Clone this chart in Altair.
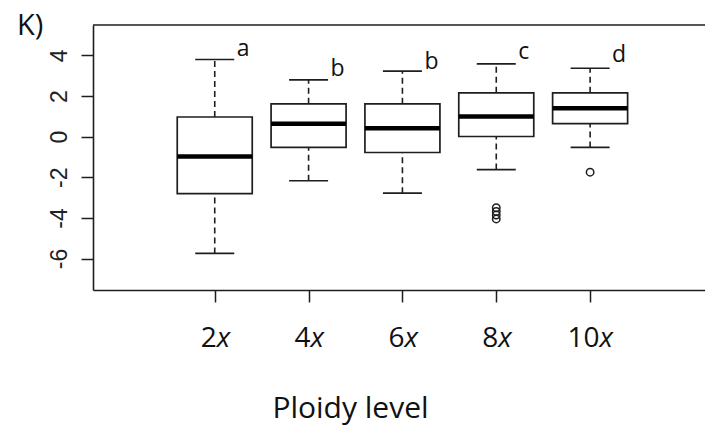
import altair as alt
import pandas as pd

# ---- data ----
CATEGORIES = ["2x", "4x", "6x", "8x", "10x"]
PLOIDY_NUM = ["2", "4", "6", "8", "10"]
WHISKER_LOW = [-5.75, -2.17, -2.78, -1.62, -0.53]
Q1 = [-2.80, -0.53, -0.78, 0.01, 0.64]
MEDIAN = [-0.98, 0.64, 0.42, 1.00, 1.40]
Q3 = [0.97, 1.62, 1.62, 2.16, 2.16]
WHISKER_HIGH = [3.80, 2.80, 3.23, 3.59, 3.37]
LETTERS = ["a", "b", "b", "c", "d"]
LETTER_Y = [3.95, 3.00, 3.34, 3.84, 3.67]
OUTLIER_GROUP = ["8x", "8x", "8x", "8x", "10x"]
OUTLIER_VALUES = [-3.50, -3.68, -3.86, -4.05, -1.75]
Y_TICKS = [-6, -4, -2, 0, 2, 4]
X_LABEL_SUFFIX = "x"
PANEL_LABEL = "K)"
X_TITLE = "Ploidy level"

# ---- tables ----
pos_of = {c: i + 1 for i, c in enumerate(CATEGORIES)}
df = pd.DataFrame({
    "group": CATEGORIES,
    "pos": [pos_of[c] for c in CATEGORIES],
    "num": PLOIDY_NUM,
    "suffix": [X_LABEL_SUFFIX] * len(CATEGORIES),
    "lo": WHISKER_LOW,
    "q1": Q1,
    "med": MEDIAN,
    "q3": Q3,
    "hi": WHISKER_HIGH,
    "letter": LETTERS,
    "letter_y": LETTER_Y,
})
out_df = pd.DataFrame({
    "group": OUTLIER_GROUP,
    "pos": [pos_of[g] for g in OUTLIER_GROUP],
    "value": OUTLIER_VALUES,
})
one = pd.DataFrame({"label": [PANEL_LABEL]})

W, H = 612, 265
INK = "#1e1e1e"
SANS = "Open Sans"

x_scale = alt.Scale(domain=[-0.244, 6.171], nice=False, zero=False)
y_scale = alt.Scale(domain=[-7.55, 5.5], nice=False, zero=False)

x_axis = alt.Axis(
    values=[1, 2, 3, 4, 5], labels=False, ticks=True, tickSize=12,
    tickColor=INK, tickWidth=1.5, domainColor=INK, domainWidth=1.6, grid=False,
    title=X_TITLE, titleFont=SANS, titleFontSize=30, titleFontWeight="normal",
    titleColor="#111", titleX=257, titleY=127, titleAlign="center",
    titleBaseline="alphabetic", titleAngle=0,
)
y_axis = alt.Axis(
    values=Y_TICKS, tickSize=12, tickColor=INK, tickWidth=1.5,
    domainColor=INK, domainWidth=1.6, grid=False, title=None,
    labelAngle=270, labelAlign="center", labelBaseline="bottom",
    labelFont="Liberation Sans", labelFontSize=23, labelColor="#222",
    labelPadding=10, labelExpr="toString(datum.value)",
)

X = alt.X("pos:Q", scale=x_scale, axis=x_axis)


def Y(field):
    return alt.Y(f"{field}:Q", scale=y_scale, axis=y_axis)


base = alt.Chart(df)

whisk_hi = base.mark_rule(strokeDash=[6, 4], strokeWidth=1.6, color=INK, opacity=1).encode(
    x=X, y=Y("q3"), y2="hi:Q")
whisk_lo = base.mark_rule(strokeDash=[6, 4], strokeWidth=1.6, color=INK, opacity=1).encode(
    x=X, y=Y("lo"), y2="q1:Q")
boxes = base.mark_bar(size=75, fill="white", stroke=INK, strokeWidth=1.7, opacity=1).encode(
    x=X, y=Y("q1"), y2="q3:Q")
medians = base.mark_tick(orient="horizontal", size=75, thickness=4.5, color="#000",
                         opacity=1).encode(x=X, y=Y("med"))
cap_hi = base.mark_tick(orient="horizontal", size=39, thickness=1.7, color=INK,
                        opacity=1).encode(x=X, y=Y("hi"))
cap_lo = base.mark_tick(orient="horizontal", size=39, thickness=1.7, color=INK,
                        opacity=1).encode(x=X, y=Y("lo"))
outliers = alt.Chart(out_df).mark_point(
    shape="circle", filled=False, size=55, strokeWidth=1.5, color=INK, opacity=1).encode(
    x=X, y=Y("value"))
letters = base.mark_text(
    align="left", baseline="alphabetic", dx=22, fontSize=23, font=SANS, color="#111").encode(
    x=X, y=Y("letter_y"), text="letter:N")

lab_x = alt.X("lab_pos:Q", scale=x_scale, axis=x_axis)
num_labels = base.transform_calculate(
    lab_pos="datum.pos + (length(datum.num) - 1) * 0.08"
).mark_text(align="right", baseline="alphabetic", dx=2, fontSize=28, font=SANS,
            color="#111").encode(x=lab_x, y=alt.value(322), text="num:N")
x_labels = base.transform_calculate(
    lab_pos="datum.pos + (length(datum.num) - 1) * 0.08"
).mark_text(align="left", baseline="alphabetic", dx=2, fontSize=28, font=SANS,
            fontStyle="italic", color="#111").encode(x=lab_x, y=alt.value(322), text="suffix:N")

top_border = alt.Chart(one).mark_rule(color=INK, strokeWidth=1.6).encode(
    x=alt.value(0), x2=alt.value(W), y=alt.value(0))
panel = alt.Chart(one).mark_text(
    align="left", baseline="alphabetic", fontSize=29, font=SANS, color="#111").encode(
    x=alt.value(-76), y=alt.value(10), text="label:N")

chart = alt.layer(
    whisk_hi, whisk_lo, boxes, medians, cap_hi, cap_lo, outliers, letters,
    num_labels, x_labels, top_border, panel,
).properties(
    width=W, height=H,
    autosize=alt.AutoSizeParams(type="none"),
    padding={"left": 93, "top": 25, "right": 0, "bottom": 137},
    background="white",
).configure_view(stroke=None)

chart.save("out.html", embed_options={"renderer": "svg", "actions": False})
